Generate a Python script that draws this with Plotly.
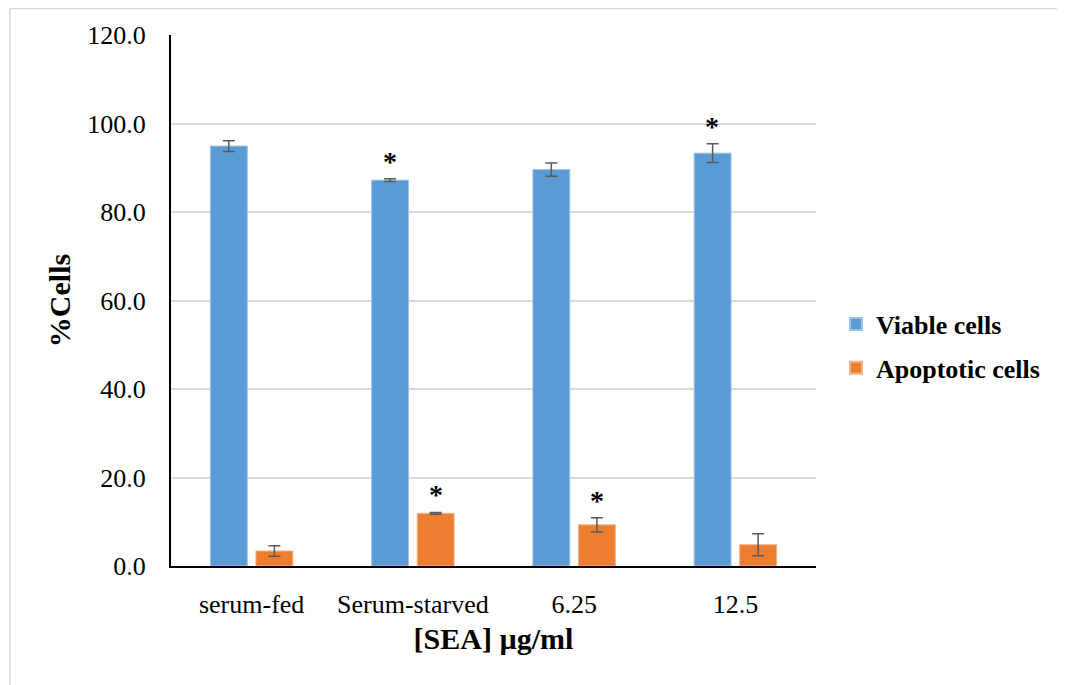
import plotly.graph_objects as go

categories = ["serum-fed", "Serum-starved", "6.25", "12.5"]
viable = [94.9, 87.2, 89.6, 93.3]
viable_err = [1.2, 0.3, 1.5, 2.1]
apoptotic = [3.4, 11.9, 9.3, 4.8]
apoptotic_err = [1.2, 0.2, 1.6, 2.5]
viable_sig = [False, True, False, True]
apoptotic_sig = [False, True, True, False]

FONT = "Liberation Serif, Times New Roman, serif"
BLUE = "#5B9BD5"
ORANGE = "#ED7D31"
ERR = "#595959"

fig = go.Figure()
fig.add_trace(go.Bar(
    name="Viable cells", x=categories, y=viable, legendgroup="v",
    marker=dict(color=BLUE, line=dict(color="#9DC3E6", width=1)),
    error_y=dict(type="data", array=viable_err, color=ERR, thickness=1.5, width=6),
))
fig.add_trace(go.Bar(
    name="Apoptotic cells", x=categories, y=apoptotic, legendgroup="a",
    marker=dict(color=ORANGE, line=dict(color="#F4B183", width=1)),
    error_y=dict(type="data", array=apoptotic_err, color=ERR, thickness=1.5, width=6),
))

annotations = []
for i, c in enumerate(categories):
    if viable_sig[i]:
        annotations.append(dict(x=i, y=viable[i] + viable_err[i], xref="x", yref="y",
                                text="<b>*</b>", showarrow=False, xshift=-23, yshift=0,
                                yanchor="bottom", font=dict(family=FONT, size=28, color="black")))
    if apoptotic_sig[i]:
        annotations.append(dict(x=i, y=apoptotic[i] + apoptotic_err[i], xref="x", yref="y",
                                text="<b>*</b>", showarrow=False, xshift=23, yshift=0,
                                yanchor="bottom", font=dict(family=FONT, size=28, color="black")))

fig.update_layout(
    width=1065, height=685,
    margin=dict(l=163, r=257, t=27, b=127, autoexpand=False),
    paper_bgcolor="white", plot_bgcolor="white",
    barmode="group", bargap=0.435, bargroupgap=0.19,
    font=dict(family=FONT, color="black"),
    legend=dict(x=1.031, y=0.414, xanchor="left", yanchor="middle",
                font=dict(family=FONT, size=26, color="black", weight="bold"),
                traceorder="grouped", tracegroupgap=7,
                itemsizing="constant", bgcolor="rgba(0,0,0,0)"),
    annotations=annotations,
    shapes=[
        dict(type="line", xref="paper", yref="paper", x0=-0.2496, x1=-0.2496,
             y0=-0.3, y1=1.05, line=dict(color="#D9D9D9", width=1.5)),
        dict(type="line", xref="paper", yref="paper", x0=-0.2496, x1=1.5,
             y0=1.05, y1=1.05, line=dict(color="#D9D9D9", width=1.5)),
    ],
)
fig.update_yaxes(
    range=[0, 120], dtick=20, tickformat=".1f", automargin=False,
    showgrid=True, gridcolor="#D9D9D9", gridwidth=1.5,
    showline=True, linecolor="black", linewidth=2,
    ticks="", ticklabelstandoff=18, zeroline=False,
    tickfont=dict(family=FONT, size=26, color="black"),
    title=dict(text="<b>%Cells</b>", font=dict(family=FONT, size=30, color="black"), standoff=8),
)
fig.update_xaxes(
    type="category", range=[-0.5, 3.5], automargin=False, tickangle=0,
    showline=True, linecolor="black", linewidth=2, ticks="",
    ticklabelstandoff=14,
    tickfont=dict(family=FONT, size=26, color="black"),
    title=dict(text="<b>[SEA] µg/ml</b>", font=dict(family=FONT, size=30, color="black"), standoff=10),
)

fig.write_html("out.html")
